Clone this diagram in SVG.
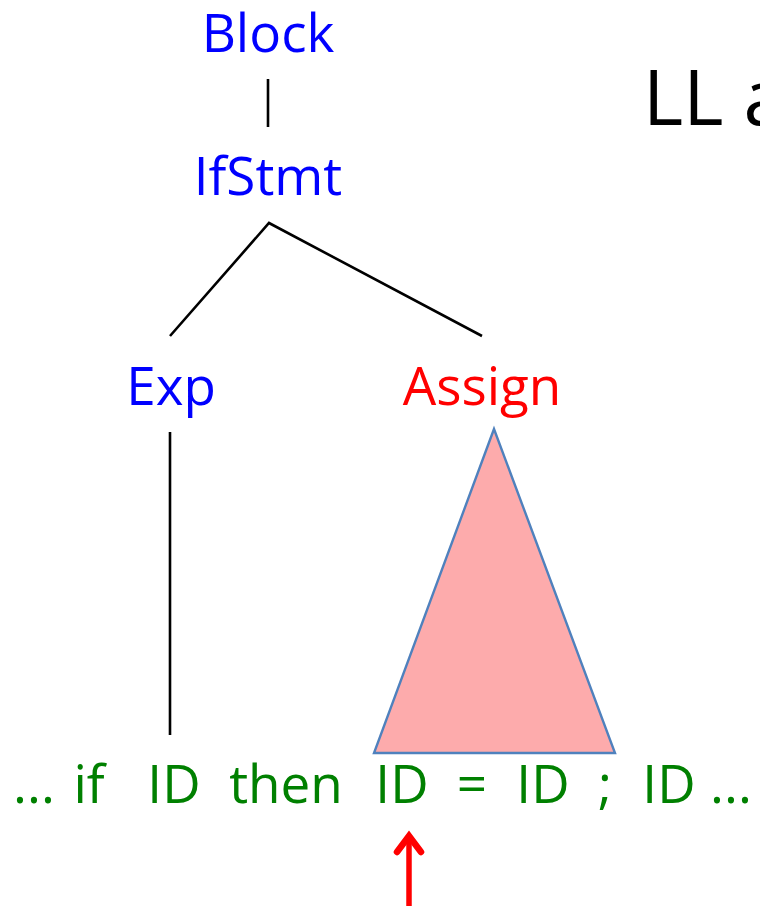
<svg xmlns="http://www.w3.org/2000/svg" width="760" height="907" viewBox="0 0 760 907">
<style>
  text { font-family: "Open Sans", "Noto Sans", "DejaVu Sans", sans-serif; font-size: 53px; }
  .nt { fill: #0000FF; text-anchor: middle; }
  .cur { fill: #FF0000; text-anchor: middle; }
  .tok { fill: #008000; text-anchor: middle; }
  .edge { stroke: #000000; stroke-width: 2.6; fill: none; }
</style>
<rect width="760" height="907" fill="#FFFFFF"/>
<g id="title">
  <text x="643" y="125" style="font-size:77px" fill="#000000">LL a</text>
</g>
<g id="connectors">
  <line class="edge" x1="268" y1="79" x2="268" y2="127"/>
  <polyline class="edge" points="170,336 269,223 482,336"/>
  <line class="edge" x1="170" y1="432" x2="170" y2="735"/>
</g>
<g id="assign-subtree">
  <polygon points="494,429 374,753 615,753" fill="#FDABAC" stroke="#4F81BD" stroke-width="2.4" stroke-linejoin="miter"/>
</g>
<g id="node-block"><text class="nt" x="268" y="52">Block</text></g>
<g id="node-ifstmt"><text class="nt" x="268" y="195">IfStmt</text></g>
<g id="node-exp"><text class="nt" x="171" y="405">Exp</text></g>
<g id="node-assign"><text class="cur" x="482" y="405">Assign</text></g>
<g id="tokens">
  <text class="tok" x="34" y="803">...</text>
  <text class="tok" x="89" y="803">if</text>
  <text class="tok" x="174" y="803">ID</text>
  <text class="tok" x="286" y="803">then</text>
  <text class="tok" x="402" y="803">ID</text>
  <text class="tok" x="472" y="803">=</text>
  <text class="tok" x="543" y="803">ID</text>
  <text class="tok" x="605" y="803">;</text>
  <text class="tok" x="669" y="803">ID</text>
  <text class="tok" x="731" y="803">...</text>
</g>
<g id="pointer">
  <line x1="409" y1="906" x2="409" y2="838" stroke="#FF0000" stroke-width="5.5"/>
  <polyline points="397,852 409,836 421,852" fill="none" stroke="#FF0000" stroke-width="6.5" stroke-linecap="round" stroke-linejoin="miter"/>
</g>
</svg>
